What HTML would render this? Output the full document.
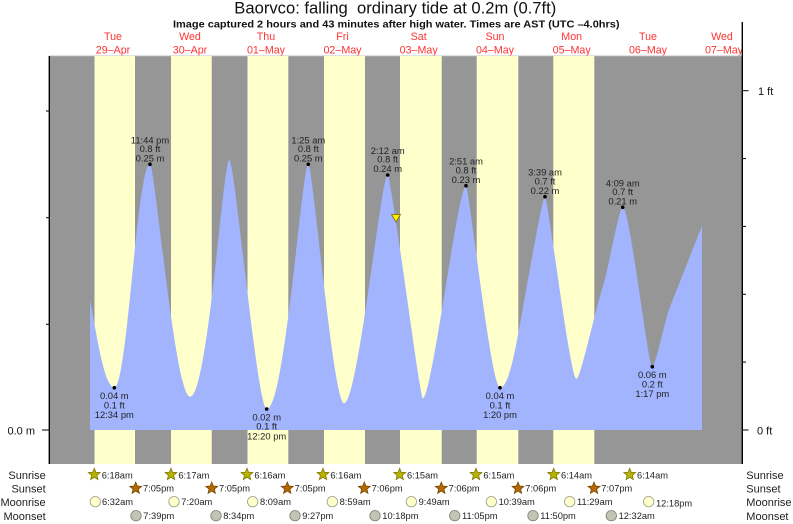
<!DOCTYPE html>
<html>
<head>
<meta charset="utf-8">
<style>
html,body{margin:0;padding:0;background:#fff;}
svg{display:block;}
text{font-family:"Liberation Sans",Arial,sans-serif;}
</style>
</head>
<body>
<svg width="793" height="524" viewBox="0 0 793 524" xmlns="http://www.w3.org/2000/svg">
<defs>
<polygon id="star" points="0,-6.3 1.65,-2.27 5.99,-1.95 2.66,0.87 3.7,5.1 0,2.8 -3.7,5.1 -2.66,0.87 -5.99,-1.95 -1.65,-2.27"/>
</defs>

<!-- Title -->
<text x="234.3" y="13.5" font-size="16.5" fill="#111" textLength="322" lengthAdjust="spacingAndGlyphs" style="white-space:pre" xml:space="preserve">Baorvco: falling  ordinary tide at 0.2m (0.7ft)</text>
<text x="173" y="27.3" font-size="10" font-weight="bold" fill="#111" textLength="446.5" lengthAdjust="spacingAndGlyphs">Image captured 2 hours and 43 minutes after high water. Times are AST (UTC –4.0hrs)</text>

<!-- Day labels -->
<g fill="#f33" font-size="10.7" text-anchor="middle">
<text x="113" y="40">Tue</text><text x="113" y="53.3">29–Apr</text>
<text x="190" y="40">Wed</text><text x="190" y="53.3">30–Apr</text>
<text x="266" y="40">Thu</text><text x="266" y="53.3">01–May</text>
<text x="342.5" y="40">Fri</text><text x="342.5" y="53.3">02–May</text>
<text x="418.7" y="40">Sat</text><text x="418.7" y="53.3">03–May</text>
<text x="495" y="40">Sun</text><text x="495" y="53.3">04–May</text>
<text x="571.7" y="40">Mon</text><text x="571.7" y="53.3">05–May</text>
<text x="648" y="40">Tue</text><text x="648" y="53.3">06–May</text>
<text x="722" y="40">Wed</text><text x="724" y="53.3">07–May</text>
</g>

<!-- Plot background -->
<rect x="49" y="56" width="693.3" height="408" fill="#969696"/>
<line x1="49" y1="55.8" x2="742" y2="55.8" stroke="#cfcfcf" stroke-width="0.8"/>
<g fill="#ffffcc">
<rect x="94.5" y="56" width="40.5" height="408"/>
<rect x="171" y="56" width="40.7" height="408"/>
<rect x="247.5" y="56" width="40.8" height="408"/>
<rect x="324" y="56" width="41" height="408"/>
<rect x="400" y="56" width="41.7" height="408"/>
<rect x="476.7" y="56" width="41.6" height="408"/>
<rect x="553.3" y="56" width="41" height="408"/>
</g>

<!-- Tide -->
<path fill="#a1b4fd" d="M90,430 L90,300
C96,330 104,387.7 114.3,387.7
C127.3,387.7 137,164.3 150,164.3
C155,164.3 175,396.7 190,396.7
C208,396.7 223,160 229.3,160
C235,160 257,409 266.7,409
C285,409 302,164.3 308.3,164.3
C313,164.3 333,403.3 344,403.3
C358,403.3 381,175 387.7,175
C391,175 420,398.3 422.7,398.3
C432,398.3 458,185.7 466,185.7
C469,185.7 491,387.7 500,387.7
C509,387.7 516,347.6 523,307
C531,264 542.5,196.7 545,196.7
C548,196.7 570,379 576.5,379
C580.5,379 596,307 603,286
C608,271 619,207.3 622.7,207.3
C630,207.3 648,366.7 652.3,366.7
C655.5,366.7 665,319.2 670,306.7
C680,281.7 692,251 702,226
L702,430 Z"/>

<!-- Current marker -->
<polygon points="391.5,214.5 400.5,214.5 396,222" fill="#ffee00" stroke="#806600" stroke-width="0.8"/>

<!-- Extreme dots -->
<g fill="#000">
<circle cx="114.3" cy="387.7" r="1.8"/>
<circle cx="150" cy="164.3" r="1.8"/>
<circle cx="266.7" cy="409" r="1.8"/>
<circle cx="308.3" cy="164.3" r="1.8"/>
<circle cx="387.7" cy="175" r="1.8"/>
<circle cx="466" cy="185.7" r="1.8"/>
<circle cx="500" cy="387.7" r="1.8"/>
<circle cx="545" cy="196.7" r="1.8"/>
<circle cx="622.7" cy="207.3" r="1.8"/>
<circle cx="652.3" cy="366.7" r="1.8"/>
</g>

<!-- Extreme labels -->
<g fill="#222" font-size="9.4" text-anchor="middle">
<text x="150" y="143.3">11:44 pm</text><text x="150" y="152">0.8 ft</text><text x="150" y="161.5">0.25 m</text>
<text x="308.3" y="143.3">1:25 am</text><text x="308.3" y="152">0.8 ft</text><text x="308.3" y="161.5">0.25 m</text>
<text x="387.7" y="154">2:12 am</text><text x="387.7" y="162.7">0.8 ft</text><text x="387.7" y="172.2">0.24 m</text>
<text x="466" y="164.7">2:51 am</text><text x="466" y="173.4">0.8 ft</text><text x="466" y="182.9">0.23 m</text>
<text x="545" y="175.7">3:39 am</text><text x="545" y="184.4">0.7 ft</text><text x="545" y="193.9">0.22 m</text>
<text x="622.7" y="186.3">4:09 am</text><text x="622.7" y="195">0.7 ft</text><text x="622.7" y="204.5">0.21 m</text>

<text x="114.3" y="399.2">0.04 m</text><text x="114.3" y="408.4">0.1 ft</text><text x="114.3" y="418.2">12:34 pm</text>
<text x="266.7" y="420.5">0.02 m</text><text x="266.7" y="429.7">0.1 ft</text><text x="266.7" y="439.5">12:20 pm</text>
<text x="500" y="399.2">0.04 m</text><text x="500" y="408.4">0.1 ft</text><text x="500" y="418.2">1:20 pm</text>
<text x="652.3" y="378.2">0.06 m</text><text x="652.3" y="387.4">0.2 ft</text><text x="652.3" y="397.2">1:17 pm</text>
</g>

<!-- Axes -->
<line x1="49.3" y1="56" x2="49.3" y2="464" stroke="#000" stroke-width="1.4"/>
<line x1="742.3" y1="22" x2="742.3" y2="464" stroke="#000" stroke-width="1.4"/>
<g stroke="#000" stroke-width="1">
<line x1="42" y1="430" x2="49" y2="430"/>
<line x1="46" y1="324.3" x2="49" y2="324.3"/>
<line x1="46" y1="217.7" x2="49" y2="217.7"/>
<line x1="46" y1="111" x2="49" y2="111"/>
<line x1="742" y1="90.7" x2="748.5" y2="90.7"/>
<line x1="742" y1="158.6" x2="746" y2="158.6"/>
<line x1="742" y1="226.4" x2="746" y2="226.4"/>
<line x1="742" y1="294.3" x2="746" y2="294.3"/>
<line x1="742" y1="362.1" x2="746" y2="362.1"/>
<line x1="742" y1="430" x2="748.5" y2="430"/>
</g>
<g fill="#111" font-size="11">
<text x="35" y="434.5" text-anchor="end">0.0 m</text>
<text x="758" y="95">1 ft</text>
<text x="757" y="434.5">0 ft</text>
</g>

<!-- Legend row labels -->
<g fill="#222" font-size="11">
<text x="45.7" y="479" text-anchor="end">Sunrise</text>
<text x="45.7" y="492.3" text-anchor="end">Sunset</text>
<text x="45.7" y="506" text-anchor="end">Moonrise</text>
<text x="45.7" y="520" text-anchor="end">Moonset</text>
<text x="746.3" y="479">Sunrise</text>
<text x="746.3" y="492.3">Sunset</text>
<text x="746.3" y="506">Moonrise</text>
<text x="746.3" y="520">Moonset</text>
</g>

<!-- Sunrise stars -->
<g fill="#b8b200" stroke="#7a7000" stroke-width="0.7">
<use href="#star" x="94.3" y="474.5"/>
<use href="#star" x="171" y="474.5"/>
<use href="#star" x="247" y="474.5"/>
<use href="#star" x="323" y="474.5"/>
<use href="#star" x="399.7" y="474.5"/>
<use href="#star" x="476" y="474.5"/>
<use href="#star" x="553.7" y="474.5"/>
<use href="#star" x="629.7" y="474.5"/>
</g>
<!-- Sunset stars -->
<g fill="#b46800" stroke="#6e3c00" stroke-width="0.7">
<use href="#star" x="135.7" y="488.3"/>
<use href="#star" x="211.7" y="488.3"/>
<use href="#star" x="287.3" y="488.3"/>
<use href="#star" x="364.3" y="488.3"/>
<use href="#star" x="441.3" y="488.3"/>
<use href="#star" x="518" y="488.3"/>
<use href="#star" x="594" y="488.3"/>
</g>
<!-- Moonrise circles -->
<g fill="#ffffcc" stroke="#9a9a80" stroke-width="0.8">
<circle cx="95.3" cy="501.7" r="5.2"/>
<circle cx="174" cy="501.7" r="5.2"/>
<circle cx="252.7" cy="501.7" r="5.2"/>
<circle cx="332.3" cy="501.7" r="5.2"/>
<circle cx="411.3" cy="501.7" r="5.2"/>
<circle cx="491.3" cy="501.7" r="5.2"/>
<circle cx="569.7" cy="501.7" r="5.2"/>
<circle cx="648.7" cy="501.7" r="5.2"/>
</g>
<!-- Moonset circles -->
<g fill="#c4c4b4" stroke="#7e7e70" stroke-width="0.8">
<circle cx="136" cy="515.7" r="5.2"/>
<circle cx="216" cy="515.7" r="5.2"/>
<circle cx="295" cy="515.7" r="5.2"/>
<circle cx="375" cy="515.7" r="5.2"/>
<circle cx="454.7" cy="515.7" r="5.2"/>
<circle cx="533" cy="515.7" r="5.2"/>
<circle cx="611.3" cy="515.7" r="5.2"/>
</g>

<!-- Legend times -->
<g fill="#222" font-size="9.3">
<text x="101.7" y="478.4">6:18am</text>
<text x="178.4" y="478.4">6:17am</text>
<text x="254.4" y="478.4">6:16am</text>
<text x="330.4" y="478.4">6:16am</text>
<text x="407" y="478.4">6:15am</text>
<text x="483.4" y="478.4">6:15am</text>
<text x="561" y="478.4">6:14am</text>
<text x="637" y="478.4">6:14am</text>

<text x="143" y="491.5">7:05pm</text>
<text x="219" y="491.5">7:05pm</text>
<text x="294.6" y="491.5">7:05pm</text>
<text x="371.6" y="491.5">7:06pm</text>
<text x="448.6" y="491.5">7:06pm</text>
<text x="525.3" y="491.5">7:06pm</text>
<text x="601.3" y="491.5">7:07pm</text>

<text x="102" y="505">6:32am</text>
<text x="181.3" y="505">7:20am</text>
<text x="260" y="505">8:09am</text>
<text x="339.6" y="505">8:59am</text>
<text x="418.6" y="505">9:49am</text>
<text x="498.6" y="505">10:39am</text>
<text x="577" y="505">11:29am</text>
<text x="656" y="506.5">12:18pm</text>

<text x="143.3" y="519">7:39pm</text>
<text x="223.3" y="519">8:34pm</text>
<text x="302.3" y="519">9:27pm</text>
<text x="382.3" y="519">10:18pm</text>
<text x="462" y="519">11:05pm</text>
<text x="540.3" y="519">11:50pm</text>
<text x="618.6" y="519">12:32am</text>
</g>
</svg>
</body>
</html>
